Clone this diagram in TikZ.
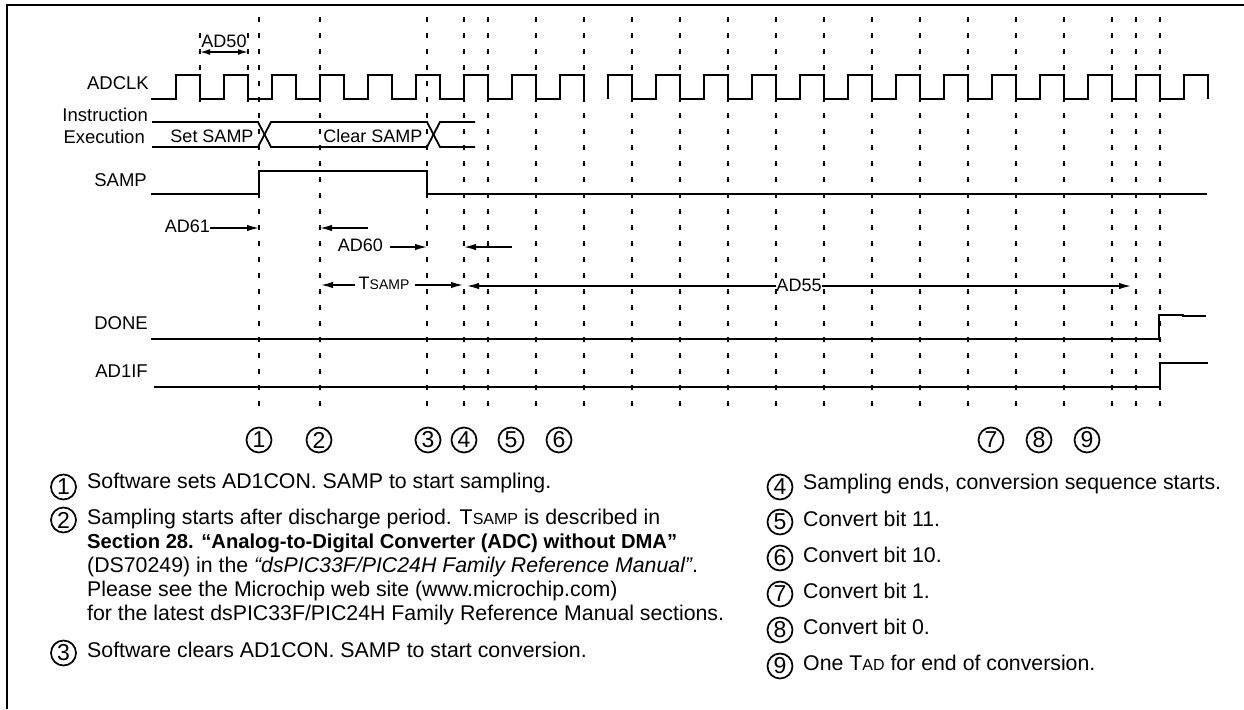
\documentclass[tikz,border=0pt]{standalone}
\usepackage{fontspec}
\setmainfont{Liberation Sans}
\usetikzlibrary{arrows.meta}
\newcommand{\tsmall}[2]{#1{\fontsize{14}{14}\selectfont #2}}
\newcommand{\nsmall}[2]{#1{\fontsize{16}{16}\selectfont #2}}
\tikzset{
  x=1pt,y=-1pt,
  wave/.style={line width=1.8pt,line join=miter,black},
  frame/.style={line width=2pt,black},
  guide/.style={line width=1.6pt,dash pattern=on 5pt off 11pt,black},
  arr/.style={line width=1.5pt,-{Latex[length=12pt,width=6.5pt]}},
  dim/.style={line width=1.5pt,{Latex[length=10pt,width=6pt]}-{Latex[length=10pt,width=6pt]}},
  lab/.style={font=\fontsize{18.5}{18.5}\selectfont,inner sep=0pt,anchor=east},
  tag/.style={font=\fontsize{18}{18}\selectfont,inner sep=0pt},
  num/.style={draw,circle,line width=1.7pt,minimum size=25pt,inner sep=0pt,font=\fontsize{23}{23}\selectfont},
  note/.style={font=\fontsize{21.3}{24}\selectfont,inner sep=0pt,anchor=west,align=left},
}
\begin{document}
\begin{tikzpicture}
\useasboundingbox (0,0) rectangle (1244,709);
\draw[frame] (1244,5) -- (6.5,5) -- (6.5,709);
% guides
\foreach \x in {259,320,427,464,488,536,584,632,680,728,776,824,872,920,968,1016,1064,1112,1136,1160}
  \draw[guide] (\x,17) -- (\x,412);
\foreach \x in {200,248}
  \draw[guide] (\x,33) -- (\x,112);
% ADCLK
\draw[wave] (151,99) \foreach \x in {176,224,272,320,368,416,464,512,560} { -- (\x,99) -- (\x,75) -- ({\x+24},75) -- ({\x+24},99) };
\draw[wave] (608,99) \foreach \x in {608,656,704,752,800,848,896,944,992,1040,1088,1136,1184} { -- (\x,99) -- (\x,75) -- ({\x+24},75) -- ({\x+24},99) };
\node[lab] (adclk) at (149,83) {ADCLK};
\node[tag] (ad50) at (224,41) {AD50};
\coordinate (a50l) at (200,52); \coordinate (a50r) at (248,52);
\draw[dim] (a50l) -- (a50r);
% Instruction
\node[lab] (instr) at (148,115) {Instruction};
\node[lab] (exec) at (145,137) {Execution};
\draw[wave] (152,122) -- (258,122) -- (271,147) -- (427,147) -- (440,122) -- (475,122);
\draw[wave] (152,147) -- (258,147) -- (271,122) -- (427,122) -- (440,147) -- (475,147);
\node[tag] (setsamp) at (212,136) {Set SAMP};
\node[tag] (clrsamp) at (373,136) {Clear SAMP};
% SAMP
\node[lab] (samp) at (147,180) {SAMP};
\draw[wave] (151,194) -- (259,194) -- (259,171) -- (427,171) -- (427,194) -- (1207,194);
% timing arrows
\node[tag,anchor=east] (ad61) at (210,226) {AD61};
\coordinate (c61) at (259,228);
\draw[arr] (ad61.east |- c61) -- (c61);
\coordinate (c60a) at (368,228); \coordinate (c60b) at (320,228);
\draw[arr] (c60a) -- (c60b);
\node[tag,anchor=east] (ad60) at (383,245) {AD60};
\coordinate (c60c) at (427,247);
\coordinate (c60s) at (390,247);
\draw[arr] (c60s) -- (c60c);
\coordinate (c60d) at (512,247); \coordinate (c60e) at (464,247);
\draw[arr] (c60d) -- (c60e);
\node[tag] (tsamp) at (384,283) {\tsmall{T}{SAMP}};
\coordinate (ts1) at (321,285); \coordinate (ts2) at (463,285);
\coordinate (ts1s) at (355,285); \coordinate (ts2s) at (415,285);
\draw[arr] (ts1s) -- (ts1);
\draw[arr] (ts2s) -- (ts2);
\node[tag] (ad55) at (799,285) {AD55};
\coordinate (a1) at (467,286); \coordinate (a2) at (1131,286);
\draw[arr] (ad55.west |- a1) -- (a1);
\draw[arr] (ad55.east |- a2) -- (a2);
% DONE, AD1IF
\node[lab] (done) at (148,323) {DONE};
\draw[wave] (151,339) -- (1159,339) -- (1159,315) -- (1183,315) -- (1183,316) -- (1206,316);
\node[lab] (ad1if) at (148,371.5) {AD1IF};
\draw[wave] (154,387) -- (1160,387) -- (1160,363) -- (1208,363);
% numbers
\foreach \n/\x in {1/259,2/319,3/428,4/464,5/511,6/559,7/991,8/1039,9/1087}
  \node[num] (n\n) at (\x,440) {\n};
% legend left
\node[num] (l1) at (63.5,487) {1};
\node[note] (t1) at (87,483) {Software sets AD1CON. SAMP to start sampling.};
\node[num] (l2) at (63.5,520) {2};
\node[note] (t2) at (87,567) {Sampling starts after discharge period. \nsmall{T}{SAMP} is described in\\
{\fontsize{20.2}{24}\selectfont\bfseries Section 28. “Analog-to-Digital Converter (ADC) without DMA”}\\
(DS70249) in the \textit{“dsPIC33F/PIC24H Family Reference Manual”}.\\
Please see the Microchip web site (www.microchip.com)\\
for the latest dsPIC33F/PIC24H Family Reference Manual sections.};
\node[num] (l3) at (63.5,653) {3};
\node[note] (t3) at (87,650) {Software clears AD1CON. SAMP to start conversion.};
% legend right
\foreach \n/\y/\t in {4/484/{Sampling ends, conversion sequence starts.},5/519/{Convert bit 11.},6/555/{Convert bit 10.},7/591/{Convert bit 1.},8/627/{Convert bit 0.},9/663/{One \nsmall{T}{AD} for end of conversion.}}{
  \node[num] (r\n) at (780,{\y+3}) {\n};
  \node[note] (rt\n) at (803,\y) {\t};
}
\end{tikzpicture}
\end{document}
